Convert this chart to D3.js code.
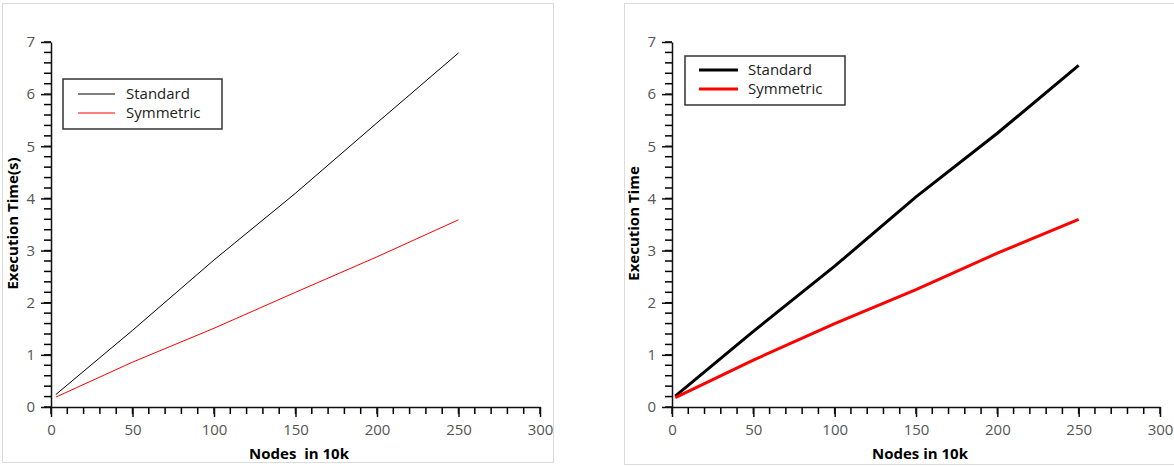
<!DOCTYPE html>
<html>
<head>
<meta charset="utf-8">
<script src="https://cdn.jsdelivr.net/npm/d3@7"></script>
<style>
  body { margin: 0; background: #fff; }
  svg { display: block; }
  .tick text { font-family: "Open Sans", sans-serif; font-size: 15px; fill: #555; }
</style>
</head>
<body>
<div id="chart"></div>
<script>
// data
var nodes = [3, 50, 100, 150, 200, 250];
var nodesRight = [2, 50, 100, 150, 200, 250];
var standardLeft = [0.24, 1.47, 2.82, 4.1, 5.45, 6.79];
var symmetricLeft = [0.19, 0.86, 1.51, 2.2, 2.88, 3.59];
var standardRight = [0.21, 1.45, 2.7, 4.03, 5.25, 6.55];
var symmetricRight = [0.18, 0.9, 1.6, 2.25, 2.95, 3.6];
var seriesNames = ["Standard", "Symmetric"];
var xTicks = [0, 50, 100, 150, 200, 250, 300];
var yTicks = [0, 1, 2, 3, 4, 5, 6, 7];
var xMinor = d3.range(0, 301, 10);
var yMinor = d3.range(0, 36).map(function(i) { return i / 5; });

var svg = d3.select("#chart")
  .append("svg")
    .attr("width", 1174)
    .attr("height", 466);

function drawPanel(opt) {
  // panel frame
  svg.append("rect")
    .attr("x", opt.frame[0] + 0.5)
    .attr("y", opt.frame[1] + 0.5)
    .attr("width", opt.frame[2])
    .attr("height", opt.frame[3])
    .attr("fill", "none")
    .attr("stroke", "#dcdcdc");

  var g = svg.append("g")
    .attr("transform", "translate(" + opt.left + "," + opt.top + ")");

  var x = d3.scaleLinear().domain([0, 300]).range([0, opt.width]);
  var y = d3.scaleLinear().domain([0, 7]).range([opt.height, 0]);

  // minor ticks
  var mg = g.append("g").attr("class", "minor");
  mg.selectAll(".xminor")
    .data(xMinor)
    .join("line")
      .attr("class", "xminor")
      .attr("x1", function(d) { return x(d); })
      .attr("x2", function(d) { return x(d); })
      .attr("y1", opt.height)
      .attr("y2", opt.height + 7)
      .attr("stroke", "#000")
      .attr("stroke-width", 1.5);
  mg.selectAll(".yminor")
    .data(yMinor)
    .join("line")
      .attr("class", "yminor")
      .attr("x1", -7)
      .attr("x2", 0)
      .attr("y1", function(d) { return y(d); })
      .attr("y2", function(d) { return y(d); })
      .attr("stroke", "#000")
      .attr("stroke-width", 1.5);

  // major ticks + labels
  var xa = g.append("g")
    .attr("transform", "translate(0," + opt.height + ")")
    .call(d3.axisBottom(x).tickValues(xTicks).tickSize(10).tickSizeOuter(0)
      .tickPadding(7).tickFormat(d3.format("d")));
  var ya = g.append("g")
    .call(d3.axisLeft(y).tickValues(yTicks).tickSize(10).tickSizeOuter(0)
      .tickPadding(6).tickFormat(d3.format("d")));
  [xa, ya].forEach(function(a) {
    a.select(".domain").attr("stroke", "#111").attr("stroke-width", 1.5);
    a.selectAll(".tick line").attr("stroke", "#111").attr("stroke-width", 1.5);
    a.attr("font-family", null).attr("font-size", null);
  });

  // axis titles
  g.append("text")
    .attr("x", opt.xTitleX)
    .attr("y", opt.height + 52)
    .attr("text-anchor", "middle")
    .style("font-family", "'Open Sans', sans-serif")
    .style("font-size", "15px")
    .style("font-weight", "bold")
    .style("white-space", "pre")
    .text(opt.xTitle);
  g.append("text")
    .attr("transform", "translate(" + opt.yTitleX + "," + (opt.height / 2 - 1) + ") rotate(-90)")
    .attr("text-anchor", "middle")
    .attr("dy", "0.35em")
    .style("font-family", "'Open Sans', sans-serif")
    .style("font-size", "15px")
    .style("font-weight", "bold")
    .text(opt.yTitle);

  // lines
  var line = d3.line()
    .x(function(d) { return x(d[0]); })
    .y(function(d) { return y(d[1]); });
  var colors = ["#000000", "#ff0000"];
  opt.series.forEach(function(vals, i) {
    g.append("path")
      .datum(opt.xs.map(function(v, j) { return [v, vals[j]]; }))
      .attr("d", line)
      .attr("fill", "none")
      .attr("stroke", colors[i])
      .attr("stroke-width", opt.lineWidth);
  });

  // legend
  var lg = g.append("g")
    .attr("transform", "translate(" + opt.legend[0] + "," + opt.legend[1] + ")");
  lg.append("rect")
    .attr("width", opt.legend[2])
    .attr("height", opt.legend[3])
    .attr("fill", "#fff")
    .attr("stroke", "#333")
    .attr("stroke-width", 1.5);
  seriesNames.forEach(function(name, i) {
    var ly = opt.legendRow0 + i * 19;
    lg.append("line")
      .attr("x1", opt.legendLine[0])
      .attr("x2", opt.legendLine[1])
      .attr("y1", ly)
      .attr("y2", ly)
      .attr("stroke", colors[i])
      .attr("stroke-width", opt.lineWidth);
    lg.append("text")
      .attr("x", opt.legendText)
      .attr("y", ly)
      .attr("dy", "0.35em")
      .style("font-family", "'Open Sans', sans-serif")
      .style("font-size", "15px")
      .style("fill", "#222")
      .text(name);
  });
}

drawPanel({
  frame: [2, 3, 551, 459],
  left: 51, top: 42, width: 489, height: 365,
  xs: nodes,
  series: [standardLeft, symmetricLeft],
  lineWidth: 1,
  xTitle: "Nodes  in 10k", xTitleX: 248,
  yTitle: "Execution Time(s)", yTitleX: -38,
  legend: [12, 37, 159, 50],
  legendLine: [15, 52], legendText: 63, legendRow0: 15
});

drawPanel({
  frame: [624, 3, 560, 461],
  left: 672, top: 42, width: 488, height: 365,
  xs: nodesRight,
  series: [standardRight, symmetricRight],
  lineWidth: 3,
  xTitle: "Nodes in 10k", xTitleX: 248,
  yTitle: "Execution Time", yTitleX: -38,
  legend: [13, 14, 160, 49],
  legendLine: [14, 53], legendText: 63, legendRow0: 14
});
</script>
</body>
</html>
